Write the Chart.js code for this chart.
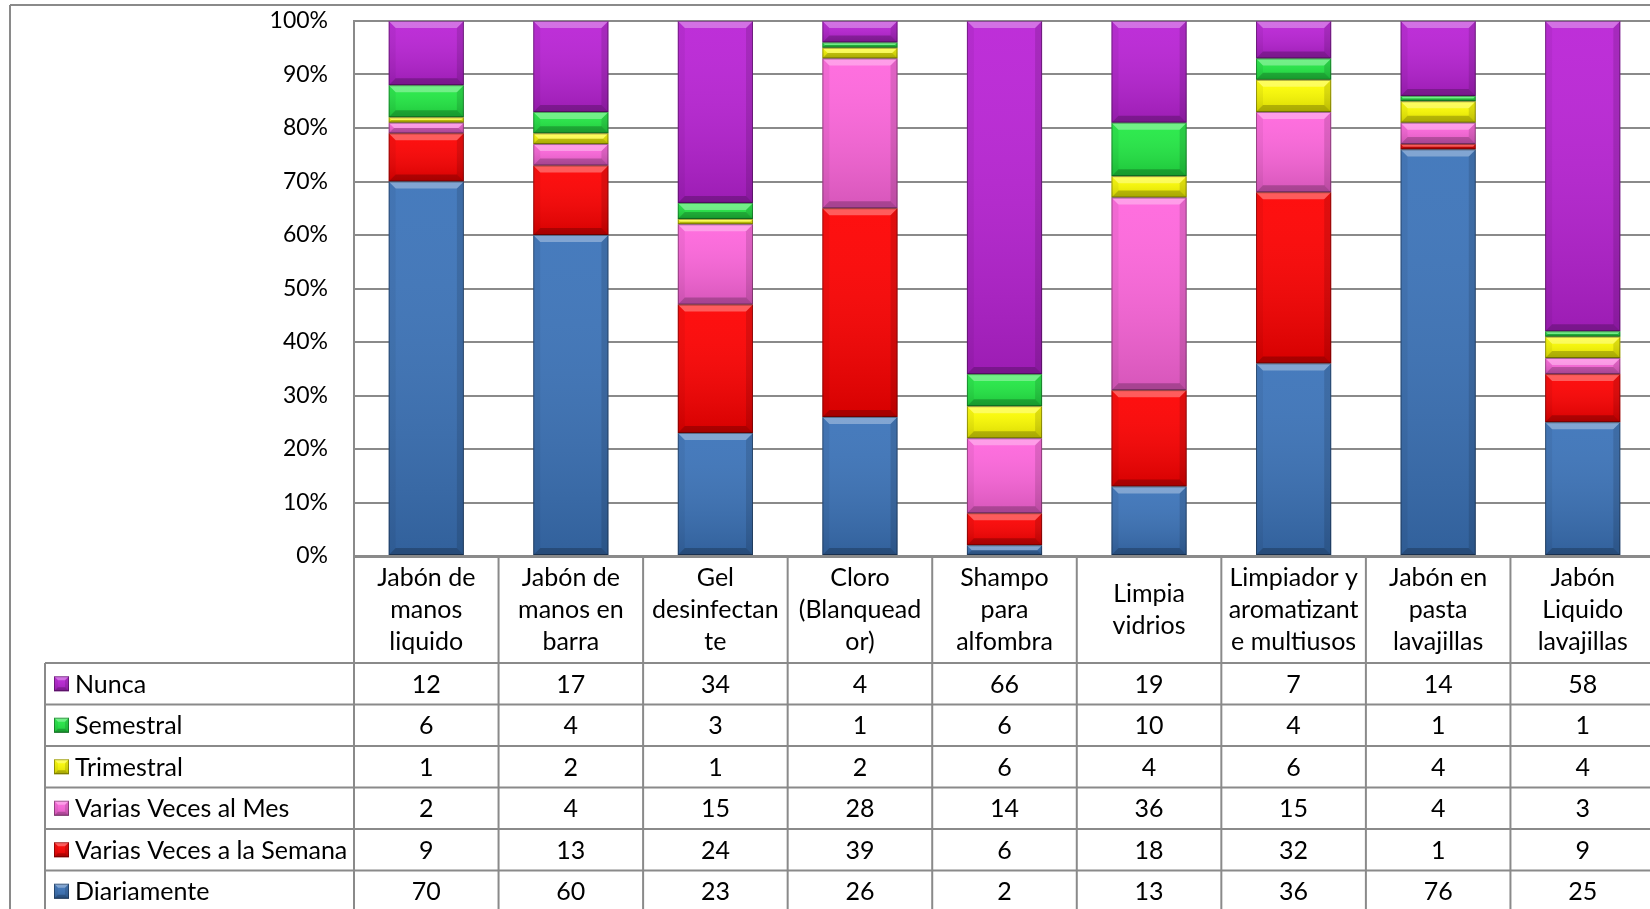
<!DOCTYPE html>
<html>
<head>
<meta charset="utf-8">
<script src="https://cdn.jsdelivr.net/npm/chart.js@4/dist/chart.umd.min.js"></script>
<style>
  html, body { margin: 0; padding: 0; background: #fff; overflow: hidden; }
  canvas { display: block; }
</style>
</head>
<body>
<canvas id="c" width="1660" height="909"></canvas>
<script>
// Products (column headers, pre-wrapped the way they appear in the table)
const categories = [
  ["Jabón de", "manos", "liquido"],
  ["Jabón de", "manos en", "barra"],
  ["Gel", "desinfectan", "te"],
  ["Cloro", "(Blanquead", "or)"],
  ["Shampo", "para", "alfombra"],
  ["Limpia", "vidrios"],
  ["Limpiador y", "aromatizant", "e multiusos"],
  ["Jabón en", "pasta", "lavajillas"],
  ["Jabón", "Liquido", "lavajillas"]
];

// Frequency of use, percent of respondents per product
const nunca      = [12, 17, 34,  4, 66, 19,  7, 14, 58];
const semestral  = [ 6,  4,  3,  1,  6, 10,  4,  1,  1];
const trimestral = [ 1,  2,  1,  2,  6,  4,  6,  4,  4];
const variasMes  = [ 2,  4, 15, 28, 14, 36, 15,  4,  3];
const variasSem  = [ 9, 13, 24, 39,  6, 18, 32,  1,  9];
const diario     = [70, 60, 23, 26,  2, 13, 36, 76, 25];

// Y axis ticks
const yTicks = [0, 10, 20, 30, 40, 50, 60, 70, 80, 90, 100];

const seriesNames  = ["Diariamente", "Varias Veces a la Semana", "Varias Veces al Mes", "Trimestral", "Semestral", "Nunca"];
const seriesData   = [diario, variasSem, variasMes, trimestral, semestral, nunca];
const seriesColors = ["#3B73B9", "#FF0000", "#FF66DD", "#FFFF00", "#22EA44", "#BA22D6"];

const GRID = "#8a8a8a";
const FONT = "Lato, 'Open Sans', sans-serif";
const TABLE_SIZE = 25;
const TICK_SIZE = 23;

function line(ctx, x1, y1, x2, y2) {
  ctx.beginPath(); ctx.moveTo(x1, y1); ctx.lineTo(x2, y2); ctx.stroke();
}

// Excel-like bevel over a rectangle
function bevel(ctx, x0, y0, x1, y1, size) {
  const h = y1 - y0, w = x1 - x0;
  if (h <= 0 || w <= 0) return;
  const b = Math.min(size, h / 2, w / 2);
  const g = ctx.createLinearGradient(0, y0, 0, y1);
  g.addColorStop(0, "rgba(255,255,255,0.06)");
  g.addColorStop(1, "rgba(0,0,0,0.16)");
  ctx.fillStyle = g;
  ctx.fillRect(x0, y0, w, h);
  const poly = (pts, fill) => {
    ctx.beginPath(); ctx.moveTo(pts[0][0], pts[0][1]);
    for (let i = 1; i < pts.length; i++) ctx.lineTo(pts[i][0], pts[i][1]);
    ctx.closePath(); ctx.fillStyle = fill; ctx.fill();
  };
  poly([[x0, y0], [x1, y0], [x1 - b, y0 + b], [x0 + b, y0 + b]], "rgba(255,255,255,0.32)");
  poly([[x0, y0], [x0 + b, y0 + b], [x0 + b, y1 - b], [x0, y1]], "rgba(0,0,0,0.05)");
  poly([[x1, y0], [x1 - b, y0 + b], [x1 - b, y1 - b], [x1, y1]], "rgba(0,0,0,0.12)");
  poly([[x0, y1], [x0 + b, y1 - b], [x1 - b, y1 - b], [x1, y1]], "rgba(0,0,0,0.22)");
  ctx.strokeStyle = "rgba(0,0,0,0.35)";
  ctx.lineWidth = 1;
  ctx.strokeRect(x0 + 0.5, y0 + 0.5, w - 1, h - 1);
}

const frame = {
  id: "frame",
  beforeDraw(chart) {
    const ctx = chart.ctx;
    ctx.save();
    ctx.strokeStyle = GRID; ctx.lineWidth = 2;
    line(ctx, 10, 5, chart.width, 5);
    line(ctx, 10, 5, 10, chart.height);
    ctx.restore();
  }
};

const barBevel = {
  id: "barBevel",
  afterDatasetsDraw(chart) {
    const ctx = chart.ctx;
    ctx.save();
    chart.data.datasets.forEach((ds, i) => {
      chart.getDatasetMeta(i).data.forEach(el => {
        const x0 = el.x - el.width / 2, x1 = el.x + el.width / 2;
        bevel(ctx, x0, Math.min(el.y, el.base), x1, Math.max(el.y, el.base), 7);
      });
    });
    ctx.restore();
  }
};

const dataTable = {
  id: "dataTable",
  afterDraw(chart) {
    const ctx = chart.ctx, area = chart.chartArea, xs = chart.scales.x;
    const n = categories.length;
    const colW = (area.right - area.left) / n;
    const top = area.bottom + 1;
    const headBottom = top + 106;
    const rowH = 41.5;
    const tableLeft = 45;
    const W = chart.width, H = chart.height;
    ctx.save();
    ctx.strokeStyle = GRID; ctx.lineWidth = 2;
    line(ctx, area.left, top, W, top);
    for (let r = 0; r <= seriesNames.length; r++) {
      const y = headBottom + r * rowH;
      line(ctx, tableLeft, y, W, y);
    }
    line(ctx, tableLeft, headBottom, tableLeft, H);
    for (let k = 0; k <= n; k++) {
      const x = area.left + k * colW;
      line(ctx, x, top, x, H);
    }

    ctx.fillStyle = "#000";
    ctx.font = TABLE_SIZE + "px " + FONT;
    ctx.textAlign = "center";
    ctx.textBaseline = "middle";
    const headMid = (top + headBottom) / 2;
    categories.forEach((lines, i) => {
      const cx = xs.getPixelForValue(i);
      lines.forEach((t, j) => {
        ctx.fillText(t, cx, headMid + (j - (lines.length - 1) / 2) * 32);
      });
    });

    // rows: top series first
    for (let r = 0; r < seriesNames.length; r++) {
      const s = seriesNames.length - 1 - r;
      const cy = headBottom + r * rowH + rowH / 2;
      ctx.fillStyle = seriesColors[s];
      ctx.fillRect(54, cy - 7.5, 15, 15);
      bevel(ctx, 54, cy - 7.5, 69, cy + 7.5, 4);
      ctx.fillStyle = "#000";
      ctx.textAlign = "left";
      ctx.fillText(seriesNames[s], 75, cy + 1);
      ctx.textAlign = "center";
      seriesData[s].forEach((v, i) => {
        ctx.fillText(String(v), xs.getPixelForValue(i), cy + 1);
      });
    }
    ctx.restore();
  }
};

function build() {
  new Chart(document.getElementById("c"), {
    type: "bar",
    data: {
      labels: categories.map(l => l.join(" ")),
      datasets: seriesNames.map((name, i) => ({
        label: name,
        data: seriesData[i],
        backgroundColor: seriesColors[i],
        borderWidth: 0,
        barPercentage: 0.52,
        categoryPercentage: 1
      }))
    },
    options: {
      responsive: false,
      animation: false,
      events: [],
      layout: { padding: { left: 0, right: 5, top: 21, bottom: 353 } },
      plugins: { legend: { display: false }, tooltip: { enabled: false } },
      scales: {
        x: { stacked: true, display: false },
        y: {
          stacked: true,
          min: 0, max: 100,
          afterBuildTicks: s => { s.ticks = yTicks.map(v => ({ value: v })); },
          afterFit: s => { s.width = 354; s.paddingTop = 0; s.paddingBottom = 0; },
          ticks: {
            padding: 26,
            color: "#000",
            font: { family: FONT, size: TICK_SIZE },
            callback: v => v + "%"
          },
          grid: { color: GRID, lineWidth: 2, drawTicks: false },
          border: { display: true, color: GRID, width: 2 }
        }
      }
    },
    plugins: [frame, barBevel, dataTable]
  });
}

Promise.all([
  document.fonts.load(TABLE_SIZE + "px Lato"),
  document.fonts.load(TICK_SIZE + "px Lato")
]).then(build, build);
</script>
</body>
</html>
